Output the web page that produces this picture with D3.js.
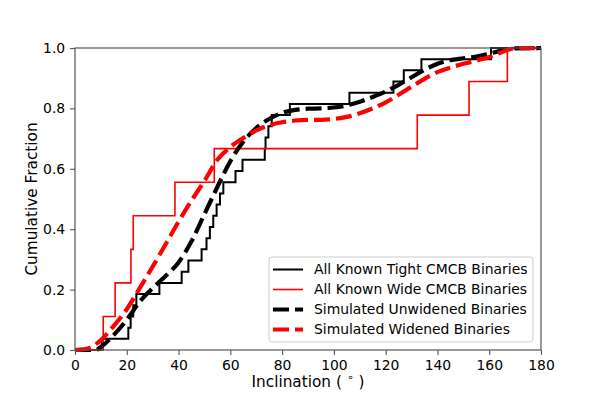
<!DOCTYPE html>
<html>
<head>
<meta charset="utf-8">
<script src="https://cdn.jsdelivr.net/npm/d3@7"></script>
<style>
  body { margin: 0; background: #fff; }
  text { font-family: "DejaVu Sans", sans-serif; }
</style>
</head>
<body>
<svg id="chart" width="600" height="400"></svg>
<script>
// Observed inclinations (deg) of known tight CMCB binaries (27 systems)
const tightInclinations = [10.3, 20.6, 21.5, 22.5, 23.7, 32.6, 41.2, 43.8, 48.9, 50.8, 52.1, 53.4, 54.7, 56.0, 57.3, 62.0, 64.7, 73.3, 73.6, 74.7, 76.0, 83.0, 106.0, 123.0, 127.0, 133.8, 160.7];
// Observed inclinations (deg) of known wide CMCB binaries (9 systems)
const wideInclinations = [10.9, 15.5, 21.6, 22.5, 38.6, 53.8, 132.2, 152.2, 167.0];

// Simulated cumulative distributions (inclination deg, cumulative fraction)
const unwidenedX = [0, 8, 10, 15, 20, 25, 30, 35, 40, 45, 50, 55, 60, 65, 70, 75, 80, 85, 90, 95, 100, 105, 110, 115, 120, 125, 130, 135, 140, 145, 150, 155, 160, 165, 170, 180];
const unwidenedY = [0, 0, 0.01, 0.05, 0.1, 0.16, 0.205, 0.245, 0.29, 0.36, 0.45, 0.54, 0.625, 0.69, 0.735, 0.765, 0.785, 0.795, 0.799, 0.8, 0.803, 0.81, 0.822, 0.838, 0.856, 0.878, 0.903, 0.928, 0.948, 0.96, 0.966, 0.972, 0.981, 0.992, 0.999, 1];
const widenedX = [0, 3, 6, 9, 12, 15, 20, 25, 30, 35, 40, 45, 50, 55, 60, 65, 70, 75, 80, 85, 90, 95, 100, 105, 110, 115, 120, 125, 130, 135, 140, 145, 150, 155, 160, 165, 170, 180];
const widenedY = [0, 0.002, 0.008, 0.025, 0.05, 0.08, 0.135, 0.205, 0.276, 0.35, 0.425, 0.495, 0.56, 0.63, 0.672, 0.702, 0.727, 0.744, 0.754, 0.76, 0.762, 0.762, 0.765, 0.772, 0.784, 0.8, 0.82, 0.845, 0.872, 0.898, 0.92, 0.935, 0.948, 0.958, 0.97, 0.987, 0.999, 1];

const xTicks = [0, 20, 40, 60, 80, 100, 120, 140, 160, 180];
const yTicks = [0, 0.2, 0.4, 0.6, 0.8, 1.0];
const legendLabels = ["All Known Tight CMCB Binaries", "All Known Wide CMCB Binaries", "Simulated Unwidened Binaries", "Simulated Widened Binaries"];

// ECDF points from a sample of inclinations
function ecdf(sample) {
  const s = sample.slice().sort((a, b) => a - b);
  const pts = [[0, 0]];
  s.forEach((v, i) => pts.push([v, (i + 1) / s.length]));
  pts.push([180, 1]);
  return pts;
}

const svg = d3.select("#chart");
const m = { left: 75, top: 48, right: 59, bottom: 50 };
const W = 600 - m.left - m.right, H = 400 - m.top - m.bottom;
const g = svg.append("g").attr("transform", `translate(${m.left},${m.top})`);

const x = d3.scaleLinear().domain([0, 180]).range([0, W]);
const y = d3.scaleLinear().domain([0, 1]).range([H, 0]);

svg.append("defs").append("clipPath").attr("id", "clip")
  .append("rect").attr("x", 0).attr("y", -2).attr("width", W).attr("height", H + 4);

const plot = g.append("g").attr("clip-path", "url(#clip)");

const stepLine = d3.line().x(d => x(d[0])).y(d => y(d[1])).curve(d3.curveStepAfter);
const smoothLine = d3.line().x(d => x(d[0])).y(d => y(d[1])).curve(d3.curveMonotoneX);

const DASH = "16,6";
plot.append("path").datum(ecdf(tightInclinations)).attr("d", stepLine)
  .attr("fill", "none").attr("stroke", "#000").attr("stroke-width", 2);
plot.append("path").datum(ecdf(wideInclinations)).attr("d", stepLine)
  .attr("fill", "none").attr("stroke", "#ff0000").attr("stroke-width", 1.6);
plot.append("path").datum(unwidenedX.map((v, i) => [v, unwidenedY[i]])).attr("d", smoothLine)
  .attr("fill", "none").attr("stroke", "#000").attr("stroke-width", 4.2).attr("stroke-dasharray", DASH);
plot.append("path").datum(widenedX.map((v, i) => [v, widenedY[i]])).attr("d", smoothLine)
  .attr("fill", "none").attr("stroke", "#ff0000").attr("stroke-width", 4.2).attr("stroke-dasharray", DASH);

// Axes
const xAxis = g.append("g").attr("transform", `translate(0,${H})`)
  .call(d3.axisBottom(x).tickValues(xTicks).tickSize(4.9).tickPadding(4.9).tickFormat(d3.format("d")));
const yAxis = g.append("g")
  .call(d3.axisLeft(y).tickValues(yTicks).tickSize(4.9).tickPadding(4.9).tickFormat(d3.format(".1f")));
[xAxis, yAxis].forEach(a => {
  a.select(".domain").remove();
  a.selectAll(".tick line").attr("stroke", "#555").attr("stroke-width", 1.1);
  a.selectAll(".tick text").attr("fill", "#000").style("font-size", "13.9px").style("font-family", "DejaVu Sans");
});

// Spines
g.append("rect").attr("x", 0).attr("y", 0).attr("width", W).attr("height", H)
  .attr("fill", "none").attr("stroke", "#555").attr("stroke-width", 1.2);

// Axis labels
const xl = svg.append("text").attr("x", m.left + W / 2).attr("y", 387)
  .attr("text-anchor", "middle").style("font-size", "15.3px").attr("fill", "#000");
xl.append("tspan").text("Inclination ( ");
xl.append("tspan").text("∘").attr("dy", -6).style("font-size", "11px");
xl.append("tspan").text(" )").attr("dy", 6);

svg.append("text").attr("transform", `translate(37,${m.top + H / 2}) rotate(-90)`)
  .attr("text-anchor", "middle").style("font-size", "15.3px").attr("fill", "#000")
  .text("Cumulative Fraction");

// Legend
const lg = svg.append("g").attr("transform", "translate(269,257)");
lg.append("rect").attr("width", 264).attr("height", 85).attr("rx", 3)
  .attr("fill", "#fff").attr("fill-opacity", 0.8).attr("stroke", "#ccc").attr("stroke-width", 1);
const styles = [
  { c: "#000", w: 2, d: null },
  { c: "#ff0000", w: 1.6, d: null },
  { c: "#000", w: 4.2, d: DASH },
  { c: "#ff0000", w: 4.2, d: DASH }
];
legendLabels.forEach((t, i) => {
  const yy = 12.5 + i * 20;
  const ln = lg.append("line").attr("x1", 4).attr("x2", 34).attr("y1", yy).attr("y2", yy)
    .attr("stroke", styles[i].c).attr("stroke-width", styles[i].w);
  if (styles[i].d) ln.attr("stroke-dasharray", styles[i].d);
  lg.append("text").attr("x", 45).attr("y", yy).attr("dy", "0.35em")
    .style("font-size", "13.9px").attr("fill", "#000").text(t);
});
</script>
</body>
</html>
